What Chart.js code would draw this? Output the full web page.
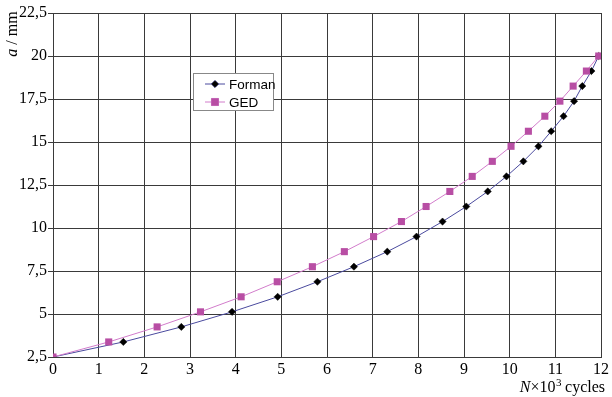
<!DOCTYPE html>
<html>
<head>
<meta charset="utf-8">
<script src="https://cdn.jsdelivr.net/npm/chart.js@4/dist/chart.umd.min.js"></script>
<style>
  html, body { margin: 0; padding: 0; background: #fff; }
  #wrap { width: 612px; height: 397px; position: relative; }
</style>
</head>
<body>
<div id="wrap"><canvas id="crack-chart" width="612" height="397"></canvas></div>
<script>
// crack length a (mm), same levels for both curves
const crackLength = [2.5, 3.375, 4.25, 5.125, 6, 6.875, 7.75, 8.625, 9.5, 10.375, 11.25,
  12.125, 13, 13.875, 14.75, 15.625, 16.5, 17.375, 18.25, 19.125, 20];
// cycles N x 10^3
const formanCycles = [0, 1.54, 2.81, 3.92, 4.92, 5.79, 6.59, 7.32, 7.96, 8.53, 9.05,
  9.52, 9.93, 10.30, 10.63, 10.91, 11.18, 11.41, 11.59, 11.79, 11.95];
const gedCycles = [0, 1.22, 2.28, 3.23, 4.12, 4.91, 5.68, 6.38, 7.02, 7.63, 8.17,
  8.69, 9.18, 9.62, 10.03, 10.41, 10.77, 11.10, 11.39, 11.68, 11.95];
const seriesNames = ['Forman', 'GED'];
const yTicks = [2.5, 5, 7.5, 10, 12.5, 15, 17.5, 20, 22.5];
const xTicks = [0, 1, 2, 3, 4, 5, 6, 7, 8, 9, 10, 11, 12];

const serif = 'Liberation Serif, Times New Roman, serif';
const sans = 'Liberation Sans, Arial, sans-serif';

function toPoints(xs, ys) {
  return xs.map((x, i) => ({ x: x, y: ys[i] }));
}

// draws the legend box and both axis titles
const decorations = {
  id: 'decorations',
  afterDraw(chart) {
    const ctx = chart.ctx;
    ctx.save();

    // legend
    ctx.fillStyle = '#fff';
    ctx.strokeStyle = '#888';
    ctx.lineWidth = 1;
    ctx.fillRect(193.5, 73.5, 80, 37);
    ctx.strokeRect(193.5, 73.5, 80, 37);
    chart.data.datasets.forEach((ds, i) => {
      const y = 84 + i * 18;
      ctx.strokeStyle = ds.borderColor;
      ctx.lineWidth = 1;
      ctx.beginPath();
      ctx.moveTo(205, y);
      ctx.lineTo(225, y);
      ctx.stroke();
      Chart.helpers.drawPoint(ctx, {
        pointStyle: ds.pointStyle,
        radius: ds.pointRadius,
        borderWidth: 1
      }, 215, y);
      ctx.fillStyle = ds.pointBackgroundColor;
      ctx.fill();
      ctx.fillStyle = '#000';
      ctx.font = '13.5px ' + sans;
      ctx.textBaseline = 'middle';
      ctx.textAlign = 'left';
      ctx.fillText(ds.label, 229, y + 1);
    });

    // y title: "a / mm", rotated
    ctx.translate(17, 34);
    ctx.rotate(-Math.PI / 2);
    ctx.fillStyle = '#000';
    ctx.textBaseline = 'alphabetic';
    ctx.textAlign = 'left';
    ctx.font = 'italic 16px ' + serif;
    const w1 = ctx.measureText('a').width;
    ctx.font = '16px ' + serif;
    const w2 = ctx.measureText(' / mm').width;
    let x0 = -(w1 + w2) / 2;
    ctx.font = 'italic 16px ' + serif;
    ctx.fillText('a', x0, 0);
    ctx.font = '16px ' + serif;
    ctx.fillText(' / mm', x0 + w1, 0);
    ctx.setTransform(1, 0, 0, 1, 0, 0);

    // x title: "N×10³ cycles", right aligned, superscript drawn smaller and raised
    ctx.font = '16px ' + serif;
    const part1 = '×10';
    const part3 = ' cycles';
    const w1x = ctx.measureText(part1).width;
    const w3x = ctx.measureText(part3).width;
    ctx.font = '11px ' + serif;
    const w2x = ctx.measureText('3').width;
    ctx.font = 'italic 16px ' + serif;
    const wn = ctx.measureText('N').width;
    let xs = 605 - wn - w1x - w2x - w3x;
    ctx.fillText('N', xs, 392);
    xs += wn;
    ctx.font = '16px ' + serif;
    ctx.fillText(part1, xs, 392);
    xs += w1x;
    ctx.font = '11px ' + serif;
    ctx.fillText('3', xs + 0.5, 386);
    xs += w2x;
    ctx.font = '16px ' + serif;
    ctx.fillText(part3, xs, 392);

    ctx.restore();
  }
};

const ctx = document.getElementById('crack-chart').getContext('2d');
const crackChart = new Chart(ctx, {
  type: 'scatter',
  data: {
    datasets: [
      {
        label: seriesNames[0],
        data: toPoints(formanCycles, crackLength),
        showLine: true,
        borderColor: '#4a4a9e',
        borderWidth: 1,
        pointStyle: 'rectRot',
        pointRadius: 3.6,
        pointBackgroundColor: '#000',
        pointBorderColor: '#000',
        pointBorderWidth: 0.5,
        order: 2
      },
      {
        label: seriesNames[1],
        data: toPoints(gedCycles, crackLength),
        showLine: true,
        borderColor: '#d27ccb',
        borderWidth: 1,
        pointStyle: 'rect',
        pointRadius: 5,
        pointBackgroundColor: '#b84ea4',
        pointBorderColor: '#b84ea4',
        pointBorderWidth: 0,
        order: 1
      }
    ]
  },
  options: {
    responsive: false,
    animation: false,
    devicePixelRatio: 1,
    layout: { padding: { top: 13, right: 10, left: 0, bottom: 0 } },
    plugins: {
      legend: { display: false },
      tooltip: { enabled: false }
    },
    scales: {
      x: {
        type: 'linear',
        min: 0,
        max: 12,
        afterBuildTicks: (scale) => { scale.ticks = xTicks.map(v => ({ value: v })); },
        afterFit: (scale) => { scale.height = 40; },
        border: { display: true, color: '#3a3a3a', width: 1 },
        grid: { color: '#3a3a3a', lineWidth: 1, drawTicks: false },
        ticks: {
          padding: 3,
          color: '#000',
          font: { family: serif, size: 16 },
          maxRotation: 0,
          autoSkip: false
        }
      },
      y: {
        type: 'linear',
        min: 2.5,
        max: 22.5,
        afterBuildTicks: (scale) => { scale.ticks = yTicks.map(v => ({ value: v })); },
        afterFit: (scale) => { scale.width = 53; },
        border: { display: true, color: '#3a3a3a', width: 1 },
        grid: { color: '#3a3a3a', lineWidth: 1, tickLength: 5 },
        ticks: {
          padding: 1,
          color: '#000',
          autoSkip: false,
          font: { family: serif, size: 16 },
          callback: (v) => String(v).replace('.', ',')
        }
      }
    }
  },
  plugins: [decorations]
});
</script>
</body>
</html>
